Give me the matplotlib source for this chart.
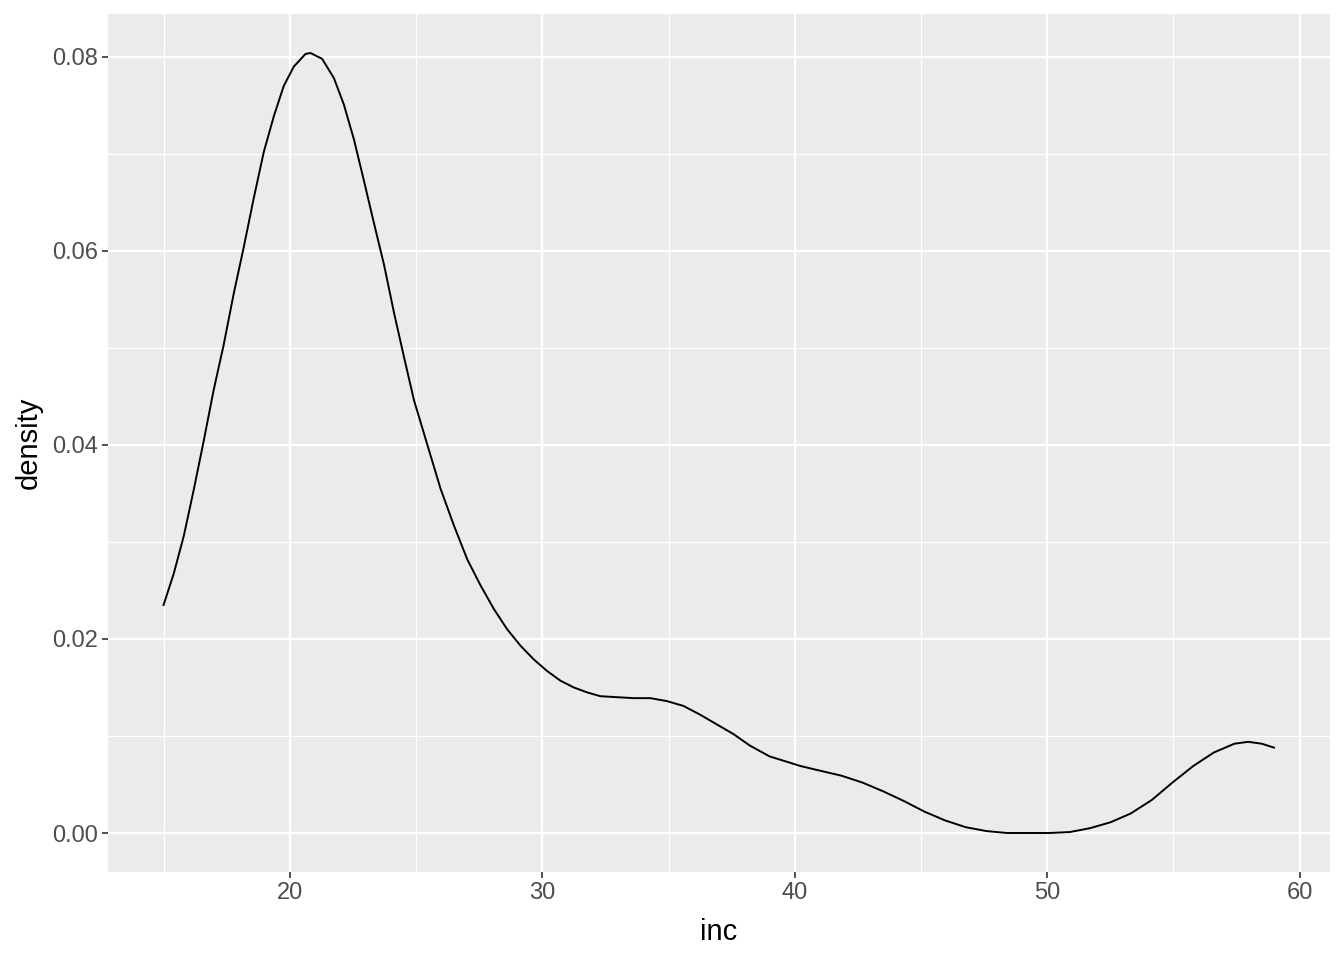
import matplotlib.pyplot as plt
from matplotlib.ticker import MultipleLocator

plt.rcParams['font.family'] = ['Liberation Sans', 'DejaVu Sans']

# density curve
inc = [15.0, 15.4, 15.8, 16.19, 16.59, 16.98, 17.38, 17.78, 18.17, 18.57,
       18.97, 19.37, 19.76, 20.16, 20.62, 20.82, 21.28, 21.75, 22.14, 22.54,
       22.94, 23.33, 23.73, 24.13, 24.52, 24.92, 25.45, 25.97, 26.5, 27.03,
       27.56, 28.08, 28.61, 29.14, 29.66, 30.19, 30.72, 31.25, 31.77, 32.3,
       32.96, 33.62, 34.28, 34.93, 35.59, 36.25, 36.91, 37.57, 38.23, 39.0,
       40.23, 41.04, 41.86, 42.68, 43.5, 44.32, 45.14, 45.95, 46.77, 47.59,
       48.41, 49.26, 50.08, 50.9, 51.7, 52.5, 53.3, 54.14, 54.96, 55.78,
       56.6, 57.41, 57.96, 58.5, 58.98]
density = [0.0235, 0.0267, 0.0306, 0.0353, 0.0404, 0.0456, 0.0503, 0.0556, 0.0603, 0.0654,
           0.0702, 0.0739, 0.0770, 0.0790, 0.0803, 0.0804, 0.0798, 0.0778, 0.0751, 0.0715,
           0.0672, 0.0629, 0.0586, 0.0536, 0.0491, 0.0446, 0.0400, 0.0355, 0.0317, 0.0282,
           0.0255, 0.0231, 0.0210, 0.0193, 0.0179, 0.0167, 0.0157, 0.0150, 0.0145, 0.0141,
           0.0140, 0.0139, 0.0139, 0.0136, 0.0131, 0.0122, 0.0112, 0.0102, 0.0090, 0.0079,
           0.0069, 0.0064, 0.0059, 0.0052, 0.0043, 0.0033, 0.0022, 0.0013, 0.0006, 0.0002,
           0.0000, 0.0000, 0.0000, 0.0001, 0.0005, 0.0011, 0.0020, 0.0034, 0.0052, 0.0069,
           0.0083, 0.0092, 0.0094, 0.0092, 0.0088]

fig = plt.figure(figsize=(13.44, 9.6), dpi=100)
ax = fig.add_axes([108 / 1344, 1 - 872 / 960, (1330 - 108) / 1344, (872 - 14) / 960])

ax.set_facecolor('#EBEBEB')
ax.plot(inc, density, color='black', linewidth=1.4, zorder=3)

ax.set_xlim(12.8, 61.2)
ax.set_ylim(-0.00402, 0.08442)
ax.xaxis.set_major_locator(MultipleLocator(10))
ax.xaxis.set_minor_locator(MultipleLocator(5))
ax.yaxis.set_major_locator(MultipleLocator(0.02))
ax.yaxis.set_minor_locator(MultipleLocator(0.01))
ax.yaxis.set_major_formatter(lambda v, pos: f'{v:.2f}')

ax.grid(which='major', color='white', linewidth=1.6)
ax.grid(which='minor', color='white', linewidth=0.8)
ax.set_axisbelow(True)
for s in ax.spines.values():
    s.set_visible(False)

ax.tick_params(which='major', length=4, width=1.2, color='#333333',
               labelcolor='#4D4D4D', labelsize=17, pad=3)
ax.tick_params(which='minor', length=0)

ax.set_xlabel('inc', fontsize=21, color='black', labelpad=10)
ax.set_ylabel('density', fontsize=21, color='black', labelpad=7)

fig.savefig('out.png', dpi=100)
